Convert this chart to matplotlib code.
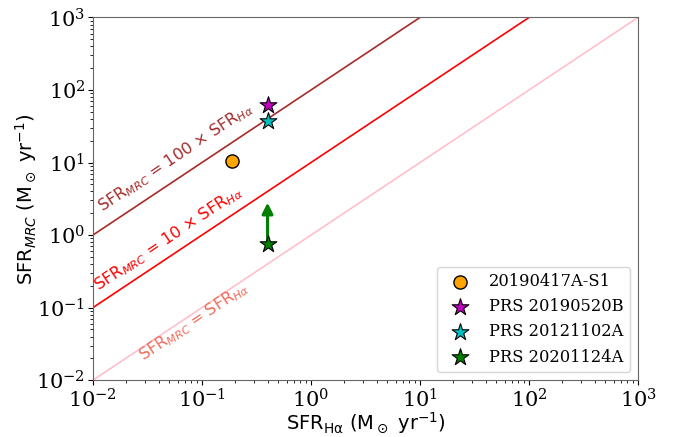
import matplotlib
matplotlib.use("Agg")
import matplotlib.pyplot as plt
import numpy as np

# valores
frb_nome = "20190417A-S1"
frb_sfr_ha = [0.19]
frb_sfr_mrc = [10.6]

prs_nomes = ["PRS 20190520B", "PRS 20121102A", "PRS 20201124A"]
prs_cores = ["m", "c", "g"]
prs_sfr_ha = [0.40, 0.40, 0.40]
prs_sfr_mrc = [63.0, 38.0, 0.76]

# limite inferior (seta) do PRS 20201124A
seta_ini = 0.76
seta_fim = 2.8

x_linha = np.array([1e-2, 1e3])
fatores = [1, 10, 100]
cores_linha = ["pink", "red", "brown"]

fig, ax = plt.subplots(figsize=(6.73, 4.37), dpi=100)

for f, c in zip(fatores, cores_linha):
    ax.plot(x_linha, f * x_linha, color=c, lw=1.2, zorder=1)

ax.scatter(frb_sfr_ha, frb_sfr_mrc, s=90, marker="o", color="orange",
           edgecolor="k", label=frb_nome, zorder=3)
for x, y, c, n in zip(prs_sfr_ha, prs_sfr_mrc, prs_cores, prs_nomes):
    ax.scatter([x], [y], s=160, marker="*", color=c, edgecolor="k",
               linewidth=0.8, label=n, zorder=3)

ax.annotate("", xy=(prs_sfr_ha[2], seta_fim), xytext=(prs_sfr_ha[2], seta_ini),
            arrowprops=dict(arrowstyle="-|>", color="green", lw=2.2,
                            mutation_scale=16, shrinkA=0, shrinkB=0), zorder=2)

# rótulos das retas
ang = 33.8
ax.text(0.0123, 2.1, r"SFR$_{MRC}$ = 100 $\times$ SFR$_{H\alpha}$", color="brown",
        fontsize=11.5, rotation=ang, rotation_mode="anchor", ha="left", va="baseline")
ax.text(0.0113, 0.17, r"SFR$_{MRC}$ = 10 $\times$ SFR$_{H\alpha}$", color="red",
        fontsize=11.7, rotation=ang, rotation_mode="anchor", ha="left", va="baseline")
ax.text(0.0288, 0.0183, r"SFR$_{MRC}$ = SFR$_{H\alpha}$", color="#f26b5b",
        fontsize=11.5, rotation=ang, rotation_mode="anchor", ha="left", va="baseline")

ax.set_xscale("log")
ax.set_yscale("log")
ax.set_xlim(1e-2, 1e3)
ax.set_ylim(1e-2, 1e3)
ax.set_xlabel(r"SFR$_{\rm H\alpha}$ (M$_\odot$ yr$^{-1}$)", fontsize=14, labelpad=-1)
ax.set_ylabel(r"SFR$_{MRC}$ (M$_\odot$ yr$^{-1}$)", fontsize=14, labelpad=-2)
for lab in ax.get_xticklabels() + ax.get_yticklabels():
    lab.set_fontfamily("serif")
ax.tick_params(labelsize=15, pad=2)
for sp in ax.spines.values():
    sp.set_color("0.4")

ax.legend(loc="lower right", prop={"family": "serif", "size": 11.7})

plt.subplots_adjust(left=0.138, right=0.948, top=0.96, bottom=0.13)
plt.savefig("out.png")
plt.close()
